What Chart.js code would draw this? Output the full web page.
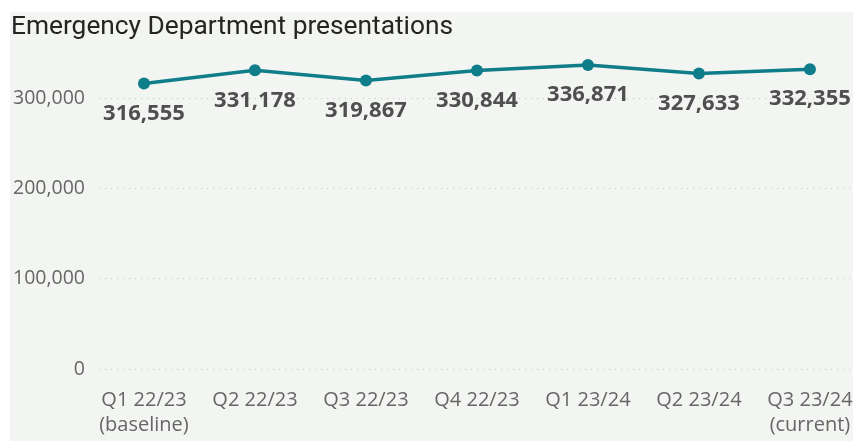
<!DOCTYPE html>
<html>
<head>
<meta charset="utf-8">
<script src="https://cdn.jsdelivr.net/npm/chart.js@4/dist/chart.umd.min.js"></script>
<style>
  html, body { margin: 0; padding: 0; background: #ffffff; overflow: hidden; }
  #wrap { width: 853px; height: 441px; position: relative; }
</style>
</head>
<body>
<div id="wrap"><canvas id="chart" width="853" height="441"></canvas></div>
<script>
// Quarter labels (multi-line where a note follows the quarter)
const quarters = [
  ['Q1 22/23', '(baseline)'],
  ['Q2 22/23'],
  ['Q3 22/23'],
  ['Q4 22/23'],
  ['Q1 23/24'],
  ['Q2 23/24'],
  ['Q3 23/24', '(current)']
];
// ED presentations per quarter
const presentations = [316555, 331178, 319867, 330844, 336871, 327633, 332355];
// Value axis ticks
const yTicks = [0, 100000, 200000, 300000];

const TEAL = '#0f7d8a';
const fmt = v => v.toLocaleString('en-US');

// Light panel behind the visual
const panelBg = {
  id: 'panelBg',
  beforeDraw(chart) {
    const ctx = chart.ctx;
    ctx.save();
    ctx.fillStyle = '#f3f5f2';
    ctx.fillRect(10, 12, chart.width - 10, chart.height - 12);
    ctx.restore();
  }
};

// Value labels under each point
const valueLabels = {
  id: 'valueLabels',
  afterDatasetsDraw(chart) {
    const ctx = chart.ctx;
    const meta = chart.getDatasetMeta(0);
    ctx.save();
    ctx.font = 'bold 22px "Open Sans"';
    ctx.fillStyle = '#4f4f4f';
    ctx.textAlign = 'center';
    ctx.textBaseline = 'middle';
    meta.data.forEach((pt, i) => {
      ctx.fillText(fmt(presentations[i]), pt.x, pt.y + 30);
    });
    ctx.restore();
  }
};

new Chart(document.getElementById('chart'), {
  type: 'line',
  data: {
    datasets: [{
      data: presentations.map((v, i) => ({ x: i, y: v })),
      borderColor: TEAL,
      backgroundColor: TEAL,
      borderWidth: 3.5,
      pointRadius: 6,
      pointBorderWidth: 0,
      pointBackgroundColor: TEAL,
      tension: 0,
      clip: false
    }]
  },
  options: {
    responsive: false,
    animation: false,
    events: [],
    layout: { autoPadding: false, padding: { left: 11, right: 0, top: 0, bottom: 0 } },
    plugins: {
      legend: { display: false },
      tooltip: { enabled: false },
      title: {
        display: true,
        text: 'Emergency Department presentations',
        align: 'start',
        color: '#252423',
        font: { family: 'Roboto', size: 26.3, weight: 'normal', lineHeight: 1.2 },
        padding: { top: 11.2, bottom: 10.5 }
      }
    },
    scales: {
      x: {
        type: 'linear',
        min: -0.405,
        max: 6.388,
        grid: { display: false, drawTicks: false },
        border: { display: false },
        afterBuildTicks: s => { s.ticks = quarters.map((q, i) => ({ value: i })); },
        afterFit: s => { s.height = 72; s.paddingLeft = 0; s.paddingRight = 0; },
        ticks: {
          autoSkip: false,
          maxRotation: 0,
          padding: 19,
          color: '#666666',
          font: { family: 'Open Sans', size: 20, lineHeight: 1.25 },
          callback: (v, i) => quarters[i]
        }
      },
      y: {
        min: 0,
        max: 350000,
        afterBuildTicks: s => { s.ticks = yTicks.map(v => ({ value: v })); },
        afterFit: s => { s.width = 88; s.paddingTop = 0; s.paddingBottom = 0; },
        grid: { color: '#c4c4c4', lineWidth: 1, drawTicks: false },
        border: { display: false, dash: [1, 5] },
        ticks: {
          padding: 14,
          color: '#666666',
          font: { family: 'Open Sans', size: 19.5 },
          callback: v => fmt(v)
        }
      }
    }
  },
  plugins: [panelBg, valueLabels]
});
</script>
</body>
</html>
